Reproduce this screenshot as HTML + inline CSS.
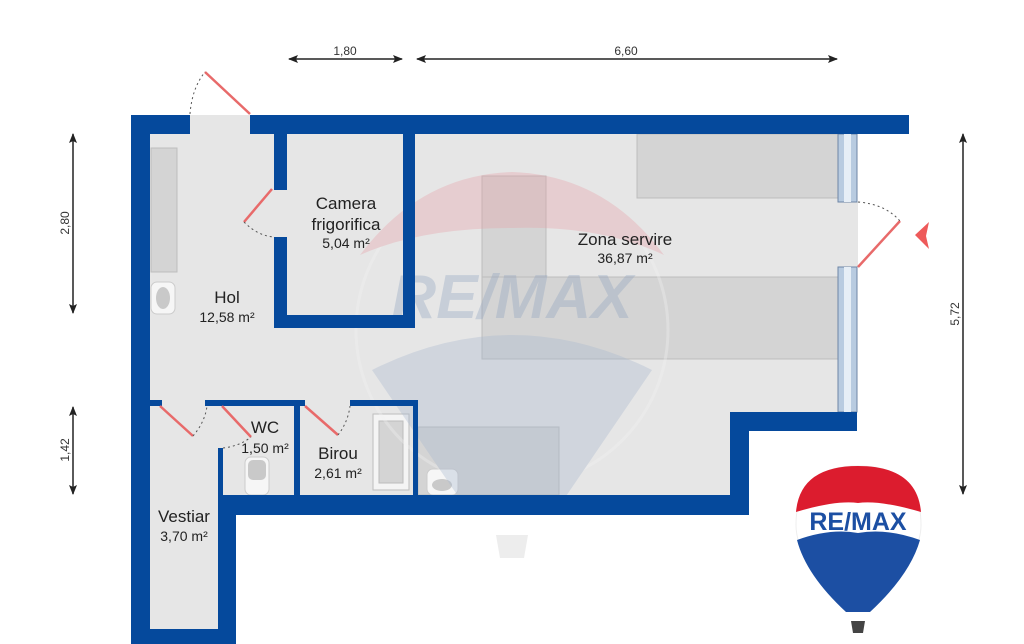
<!DOCTYPE html>
<html><head><meta charset="utf-8"><style>
html,body{margin:0;padding:0;background:#fff;width:1024px;height:644px;overflow:hidden}
svg{display:block;font-family:"Liberation Sans",sans-serif}
</style></head><body>
<svg width="1024" height="644" viewBox="0 0 1024 644" xmlns="http://www.w3.org/2000/svg">
<defs>
<marker id="ah" markerWidth="10" markerHeight="10" refX="9" refY="5" orient="auto-start-reverse" markerUnits="userSpaceOnUse"><path d="M0,1 L10,5 L0,9 L2,5Z" fill="#222"/></marker>
</defs>
<g fill="#e6e6e6">
<rect x="150" y="134" width="688" height="278"/>
<rect x="150" y="412" width="580" height="83"/>
<rect x="150" y="495" width="68" height="134"/>
<rect x="190" y="115" width="60" height="20"/>
<rect x="838" y="202" width="20" height="65"/>
</g>
<g fill="#d4d4d4" stroke="#bdbdbd" stroke-width="1">
<rect x="151" y="148" width="26" height="124"/>
<rect x="637" y="134" width="201" height="64"/>
<rect x="482" y="176" width="64" height="101"/>
<rect x="482" y="277" width="356" height="82"/>
<rect x="418" y="427" width="141" height="68"/>
<rect x="373" y="414" width="36" height="76" fill="#f4f4f4"/>
<rect x="379" y="421" width="24" height="62" fill="#d4d4d4"/>
</g>
<rect x="151" y="282" width="24" height="32" rx="6" fill="#f6f6f6" stroke="#ccc"/>
<ellipse cx="163" cy="298" rx="7" ry="11" fill="#c9c9c9"/>
<rect x="245" y="457" width="24" height="38" rx="6" fill="#f6f6f6" stroke="#ccc"/>
<rect x="248" y="460" width="18" height="20" rx="5" fill="#c9c9c9"/>
<rect x="427" y="469" width="31" height="26" rx="6" fill="#f6f6f6" stroke="#ccc"/>
<ellipse cx="442" cy="485" rx="10" ry="6" fill="#c9c9c9"/>
<g opacity="0.35">
<circle cx="512" cy="330" r="156" fill="none" stroke="#f2f2f2" stroke-width="3"/>
<path d="M360,255 Q420,175 512,172 Q605,175 664,255 Q600,225 512,228 Q420,228 360,255Z" fill="#e7a1a8"/>
<path d="M372,370 Q512,300 652,370 L560,505 L464,505Z" fill="#a8b8cf"/>
<text x="512" y="318" text-anchor="middle" font-size="62" font-weight="bold" font-style="italic" fill="#8ea3bf">RE/MAX</text>
<path d="M496,535 L528,535 L524,558 L500,558Z" fill="#ccc"/>
</g>
<g fill="#b8cbe0" stroke="#6e86a6" stroke-width="1">
<rect x="838" y="134" width="19" height="68"/>
<rect x="838" y="267" width="19" height="145"/>
</g>
<rect x="844" y="134" width="7" height="68" fill="#e6eef6"/>
<rect x="844" y="267" width="7" height="145" fill="#e6eef6"/>
<g fill="#05499c">
<rect x="131" y="115" width="59" height="19"/>
<rect x="250" y="115" width="659" height="19"/>
<rect x="131" y="115" width="19" height="529"/>
<rect x="131" y="629" width="105" height="15"/>
<rect x="218" y="495" width="18" height="149"/>
<rect x="218" y="495" width="531" height="20"/>
<rect x="730" y="412" width="19" height="103"/>
<rect x="730" y="412" width="127" height="19"/>
<rect x="274" y="134" width="13" height="56"/>
<rect x="274" y="237" width="13" height="91"/>
<rect x="274" y="315" width="141" height="13"/>
<rect x="403" y="134" width="12" height="194"/>
<rect x="150" y="400" width="12" height="6"/>
<rect x="205" y="400" width="100" height="6"/>
<rect x="350" y="400" width="68" height="6"/>
<rect x="218" y="448" width="5" height="48"/>
<rect x="294" y="400" width="6" height="96"/>
<rect x="413" y="400" width="5" height="96"/>
</g>
<g stroke="#e86a6a" stroke-width="2.5" fill="none">
<line x1="205" y1="72" x2="250" y2="114"/>
<line x1="272" y1="189" x2="244" y2="222"/>
<line x1="160" y1="406" x2="193" y2="436"/>
<line x1="222" y1="406" x2="251" y2="437"/>
<line x1="305" y1="406" x2="338" y2="435"/>
<line x1="858" y1="267" x2="900" y2="221"/>
</g>
<g stroke="#555" stroke-width="1" stroke-dasharray="2,3" fill="none">
<path d="M190,114 Q192,88 205,72"/>
<path d="M244,222 Q258,236 274,237"/>
<path d="M193,436 Q205,422 207,406"/>
<path d="M223,448 Q240,446 251,437"/>
<path d="M338,435 Q348,422 350,406"/>
<path d="M858,202 Q885,204 900,221"/>
</g>
<path d="M915,235 L929,222 L926,236 L929,249Z" fill="#ee5a5a"/>
<g fill="#222" text-anchor="middle">
<text x="346" y="209" font-size="17">Camera</text>
<text x="346" y="230" font-size="17">frigorifica</text>
<text x="346" y="248" font-size="14">5,04 m²</text>
<text x="227" y="303" font-size="17">Hol</text>
<text x="227" y="322" font-size="14">12,58 m²</text>
<text x="625" y="245" font-size="17">Zona servire</text>
<text x="625" y="263" font-size="14">36,87 m²</text>
<text x="265" y="433" font-size="17">WC</text>
<text x="265" y="453" font-size="14">1,50 m²</text>
<text x="338" y="459" font-size="17">Birou</text>
<text x="338" y="478" font-size="14">2,61 m²</text>
<text x="184" y="522" font-size="17">Vestiar</text>
<text x="184" y="541" font-size="14">3,70 m²</text>
</g>
<g stroke="#222" stroke-width="1.5" fill="none">
<line x1="289" y1="59" x2="402" y2="59" marker-start="url(#ah)" marker-end="url(#ah)"/>
<line x1="417" y1="59" x2="837" y2="59" marker-start="url(#ah)" marker-end="url(#ah)"/>
<line x1="73" y1="134" x2="73" y2="313" marker-start="url(#ah)" marker-end="url(#ah)"/>
<line x1="73" y1="407" x2="73" y2="494" marker-start="url(#ah)" marker-end="url(#ah)"/>
<line x1="963" y1="134" x2="963" y2="494" marker-start="url(#ah)" marker-end="url(#ah)"/>
</g>
<g fill="#333" font-size="12" text-anchor="middle">
<text x="345" y="55">1,80</text>
<text x="626" y="55">6,60</text>
<text transform="translate(69,223) rotate(-90)">2,80</text>
<text transform="translate(69,450) rotate(-90)">1,42</text>
<text transform="translate(959,314) rotate(-90)">5,72</text>
</g>
<g>
<path d="M796,525 Q796,466 858,466 Q921,466 921,525 Q921,560 870,610 L846,610 Q796,560 796,525Z" fill="#fff" stroke="#eee"/>
<path d="M796,512 Q800,466 858,466 Q917,466 921,512 Q880,500 858,503 Q836,500 796,512Z" fill="#dc1c2e"/>
<path d="M797,540 Q830,528 858,533 Q887,528 920,540 Q910,575 870,612 L846,612 Q806,575 797,540Z" fill="#1c4fa3"/>
<text x="858" y="530" text-anchor="middle" font-size="25" font-weight="bold" fill="#1c4fa3">RE/MAX</text>
<path d="M851,621 L865,621 L863,633 L853,633Z" fill="#444"/>
</g>
</svg>
</body></html>
